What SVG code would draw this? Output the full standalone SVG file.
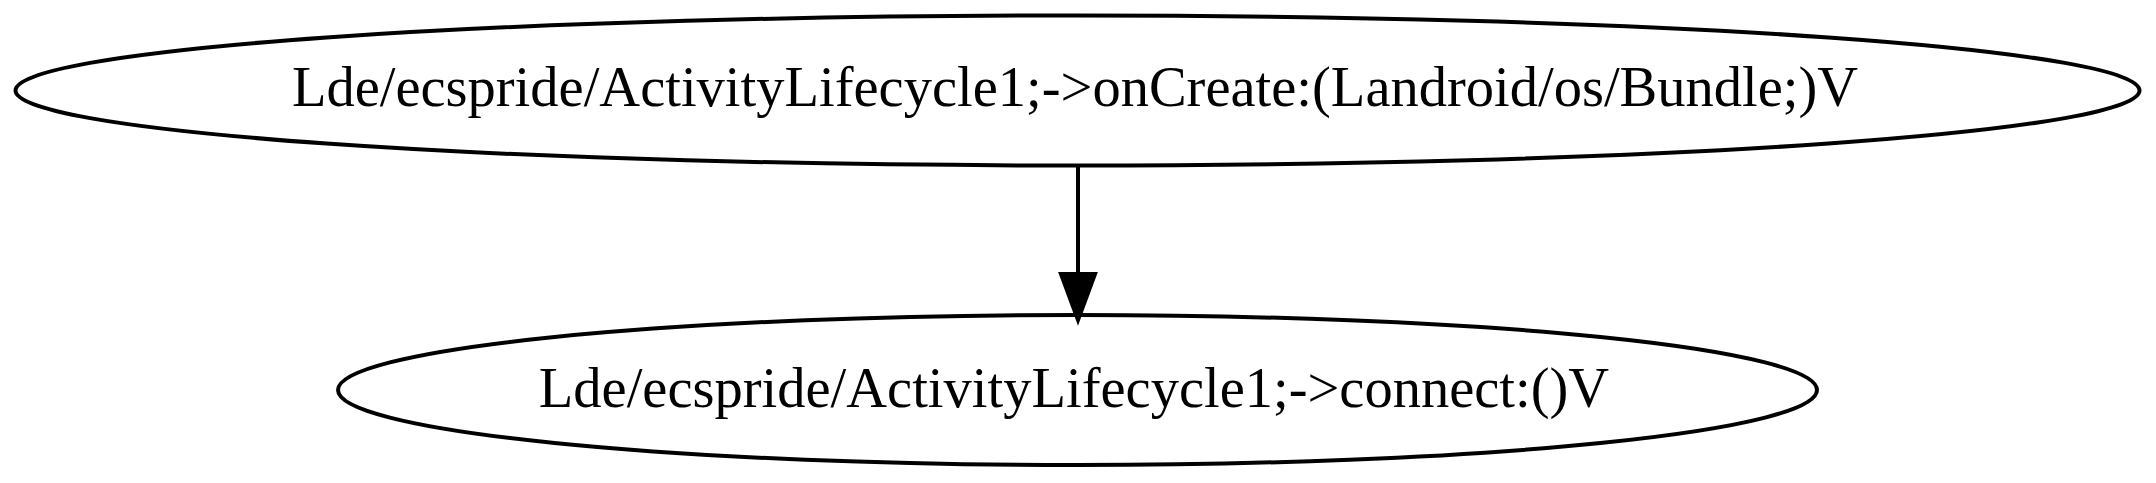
<svg xmlns="http://www.w3.org/2000/svg" width="2156" height="483" viewBox="0 0 2156 483">
<style>
.node ellipse{fill:none;stroke:#000;stroke-width:4}
.node text{font-family:"Liberation Serif","Times New Roman",serif;font-size:56.5px;fill:#000;text-anchor:middle}
.edge line{stroke:#000;stroke-width:4}
.edge polygon{fill:#000;stroke:#000;stroke-width:4}
</style>
<rect width="2156" height="483" fill="#fff"/>
<g id="node1" class="node">
<ellipse cx="1077.5" cy="90.5" rx="1062" ry="75"/>
<text x="1075" y="106">Lde/ecspride/ActivityLifecycle1;-&gt;onCreate:(Landroid/os/Bundle;)V</text>
</g>
<g id="node2" class="node">
<ellipse cx="1077.5" cy="390" rx="739.5" ry="75"/>
<text x="1074" y="407">Lde/ecspride/ActivityLifecycle1;-&gt;connect:()V</text>
</g>
<g id="edges" class="edge">
<line x1="1078" y1="166" x2="1078" y2="274"/>
<polygon points="1061,274 1078,320 1095,274"/>
</g>
</svg>
